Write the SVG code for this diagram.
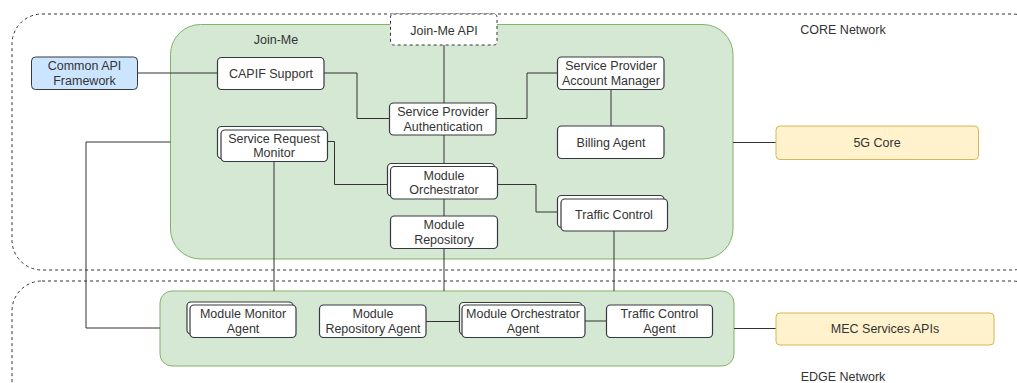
<svg xmlns="http://www.w3.org/2000/svg" width="1017" height="383" viewBox="0 0 1017 383">
<style>
text{font-family:"Liberation Sans",Arial,sans-serif;font-size:12.5px;fill:#333;text-anchor:middle;dominant-baseline:central}
.zone{fill:none;stroke:#333;stroke-width:1;stroke-dasharray:3 3}
.cont{fill:#d5e8d4;stroke:#82b366;stroke-width:1}
.box{fill:#fff;stroke:#36393d;stroke-width:1.2}
.api{fill:#fff;stroke:#333;stroke-width:1;stroke-dasharray:3 3}
.blue{fill:#cce5ff;stroke:#36393d;stroke-width:1}
.yel{fill:#fff2cc;stroke:#d6b656;stroke-width:1}
.edge{fill:none;stroke:#333;stroke-width:1}
</style>
<g id="core-network">
<rect class="zone" x="12" y="14" width="1030" height="256" rx="30"/>
<text x="843" y="30">CORE Network</text>
</g>
<g id="edge-network">
<rect class="zone" x="12" y="281" width="1030" height="150" rx="30"/>
<text x="843" y="377">EDGE Network</text>
</g>
<g id="join-me">
<rect class="cont" x="170.5" y="24.5" width="562.5" height="234.5" rx="30"/>
<text x="276" y="40">Join-Me</text>
</g>
<g id="edge-container">
<rect class="cont" x="160" y="291" width="574" height="75" rx="12"/>
</g>
<g id="connectors">
<path class="edge" d="M137,73 H217"/>
<path class="edge" d="M324,73 H357 V118.5 H389.5"/>
<path class="edge" d="M444,45 V103"/>
<path class="edge" d="M444,135 V163"/>
<path class="edge" d="M496,118.5 H527 V73 H557.5"/>
<path class="edge" d="M611,89.5 V126"/>
<path class="edge" d="M327.5,141.5 H334.5 V184.5 H387.5"/>
<path class="edge" d="M497,184.5 H536 V212 H557.5"/>
<path class="edge" d="M444,199 V216"/>
<path class="edge" d="M444,248 V291"/>
<path class="edge" d="M274,161.5 V291"/>
<path class="edge" d="M614,230.5 V291"/>
<path class="edge" d="M170.5,142 H86 V328 H160"/>
<path class="edge" d="M733,142.5 H776"/>
<path class="edge" d="M426,321.5 H459.5"/>
<path class="edge" d="M585,321 H606.5"/>
<path class="edge" d="M734,328.5 H776"/>
</g>
<g id="join-me-api">
<rect class="api" x="390.5" y="14" width="106.5" height="31" rx="3"/>
<text x="444" y="31">Join-Me API</text>
</g>
<g id="common-api-framework">
<rect class="blue" x="31.5" y="57" width="106" height="32.5" rx="4"/>
<text x="84.5" y="66">Common API</text>
<text x="84.5" y="80.5">Framework</text>
</g>
<g id="capif-support">
<rect class="box" x="217.5" y="57.5" width="106.5" height="32" rx="4"/>
<text x="271" y="73.5">CAPIF Support</text>
</g>
<g id="sp-authentication">
<rect class="box" x="389.5" y="103" width="106.5" height="32" rx="4"/>
<text x="443" y="112">Service Provider</text>
<text x="443" y="126.5">Authentication</text>
</g>
<g id="sp-account-manager">
<rect class="box" x="557.5" y="57" width="106.5" height="32.5" rx="4"/>
<text x="611" y="66">Service Provider</text>
<text x="611" y="80.5">Account Manager</text>
</g>
<g id="billing-agent">
<rect class="box" x="557.5" y="126" width="106.5" height="32.5" rx="4"/>
<text x="611" y="142.5">Billing Agent</text>
</g>
<g id="service-request-monitor">
<rect class="box" x="217.5" y="126.5" width="106.5" height="32" rx="4"/>
<rect class="box" x="221" y="130" width="106.5" height="31.5" rx="4"/>
<text x="274" y="138.5">Service Request</text>
<text x="274" y="153">Monitor</text>
</g>
<g id="module-orchestrator">
<rect class="box" x="387.5" y="163.5" width="107" height="32.5" rx="4"/>
<rect class="box" x="390.5" y="166.5" width="107" height="32.5" rx="4"/>
<text x="444" y="175.5">Module</text>
<text x="444" y="190">Orchestrator</text>
</g>
<g id="module-repository">
<rect class="box" x="390.5" y="216" width="107" height="32.5" rx="4"/>
<text x="444" y="225">Module</text>
<text x="444" y="239.5">Repository</text>
</g>
<g id="traffic-control">
<rect class="box" x="557.5" y="195.5" width="106.5" height="32" rx="4"/>
<rect class="box" x="561" y="199" width="106.5" height="32" rx="4"/>
<text x="614" y="215">Traffic Control</text>
</g>
<g id="core-5g">
<rect class="yel" x="776" y="126" width="202.5" height="33.5" rx="4"/>
<text x="877" y="143">5G Core</text>
</g>
<g id="module-monitor-agent">
<rect class="box" x="187" y="302" width="106" height="32" rx="4"/>
<rect class="box" x="190" y="305" width="106" height="32.5" rx="4"/>
<text x="243" y="314">Module Monitor</text>
<text x="243" y="328.5">Agent</text>
</g>
<g id="module-repository-agent">
<rect class="box" x="319.5" y="305" width="106.5" height="32.5" rx="4"/>
<text x="373" y="314">Module</text>
<text x="373" y="328.5">Repository Agent</text>
</g>
<g id="module-orchestrator-agent">
<rect class="box" x="459.5" y="302.5" width="122.5" height="32" rx="4"/>
<rect class="box" x="462" y="305" width="123" height="32.5" rx="4"/>
<text x="523" y="314">Module Orchestrator</text>
<text x="523" y="328.5">Agent</text>
</g>
<g id="traffic-control-agent">
<rect class="box" x="606.5" y="305" width="106" height="32.5" rx="4"/>
<text x="659.5" y="314">Traffic Control</text>
<text x="659.5" y="328.5">Agent</text>
</g>
<g id="mec-services-apis">
<rect class="yel" x="776" y="313" width="218" height="32" rx="4"/>
<text x="885" y="329">MEC Services APIs</text>
</g>
</svg>
